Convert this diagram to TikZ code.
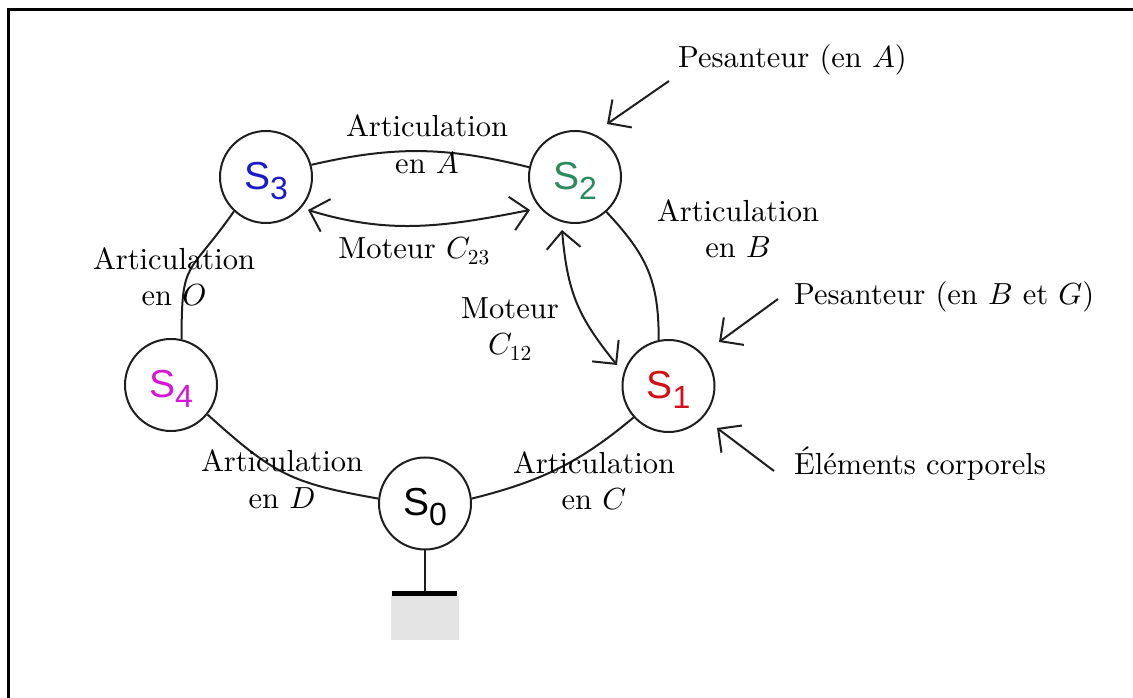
\documentclass[tikz,border=0pt]{standalone}
\usepackage{fontspec}
\setmainfont{lmroman10-regular.otf}[ItalicFont=lmroman10-italic.otf]
\newfontfamily\sfS{Liberation Sans}
\DeclareFontShape{OML}{cmm}{m}{it}{<-> cmmi10}{}
\DeclareFontShape{OT1}{cmr}{m}{n}{<-> cmr10}{}
\usetikzlibrary{arrows.meta,calc}
\definecolor{cBlue}{RGB}{25,25,205}
\definecolor{cGreen}{RGB}{40,140,95}
\definecolor{cMag}{RGB}{215,20,215}
\definecolor{cRed}{RGB}{215,15,20}
\definecolor{cGround}{RGB}{228,228,228}
\definecolor{cLine}{RGB}{30,30,30}
\newcommand\SysLab[1]{{\sfS\fontsize{39}{40}\selectfont\rule{0pt}{35pt}S\raisebox{-10pt}{\fontsize{32}{34}\selectfont #1}}}
\tikzset{
  sys/.style={circle, draw=cLine, line width=2pt, minimum size=92pt, inner sep=0pt},
  link/.style={draw=cLine, line width=2pt},
  motor/.style={link, {Straight Barb[length=17pt,width=34pt]}-{Straight Barb[length=17pt,width=34pt]}},
  force/.style={link, -{Straight Barb[length=17pt,width=34pt]}},
  lab/.style={font=\fontsize{30.5}{36.5}\selectfont, align=center, inner sep=0pt}
}
\begin{document}
\begin{tikzpicture}[x=1pt,y=1pt]
\useasboundingbox (0,0) rectangle (1133,698);
% frame
\draw[line width=3pt] (8.5,0) -- (8.5,688.3) -- (1133,688.3);

% systems
\node[sys,text=cBlue]  (S3) at (266,521)   {\SysLab{3}};
\node[sys,text=cGreen] (S2) at (575,521)   {\SysLab{2}};
\node[sys,text=cMag]   (S4) at (171,313)   {\SysLab{4}};
\node[sys,text=black]  (S0) at (425,194.5) {\SysLab{0}};
\node[sys,text=cRed]   (S1) at (668.5,312) {\SysLab{1}};

% ground
\node[fill=cGround, draw=none, minimum width=68pt, minimum height=44pt, inner sep=0pt, anchor=north] (G) at (425,102) {};
\draw[link] (S0) -- (G.north);
\draw[line width=4.7pt] ($(G.north west)+(1,2.35)$) -- ($(G.north east)+(-2,2.35)$);

% articulations
\draw[link] (S3.15) to[out=13,in=166] (S2.168);
\draw[link] (S2.-48) to[out=-47,in=90,looseness=1.1] (S1.102);
\draw[link] (S3.227) to[out=235,in=90,looseness=1.5] (S4.77);
\draw[link] (S4.-39) to[out=-42,in=170,looseness=1.2] (S0.174);
\draw[link] (S0.6) to[out=14,in=220] (S1.222);

% motors
\coordinate (m23a) at ($(S3)+(42,-33)$);
\coordinate (m23b) at ($(S2)+(-45,-33)$);
\coordinate (m12a) at ($(S2)+(-13,-53)$);
\coordinate (m12b) at ($(S1)+(-51.5,21)$);
\draw[motor] (m23a) to[out=-17,in=191] (m23b);
\draw[motor] (m12a) to[out=275,in=129,looseness=1.1] (m12b);

% external forces
\coordinate (fAt) at (669,617);
\coordinate (fAh) at (607,574);
\coordinate (fBt) at (778,399);
\coordinate (fBh) at (719,356);
\coordinate (fEt) at (774,227);
\coordinate (fEh) at (717,270);
\draw[force] (fAt) -- (fAh);
\draw[force] (fBt) -- (fBh);
\draw[force] (fEt) -- (fEh);

% labels
\node[lab] (lA) at (427,553.6) {Articulation\\en $A$};
\node[lab,anchor=base] (m23) at (414,439) {Moteur $C_{23}$};
\node[lab] (lB) at (738,469.1) {Articulation\\en $B$};
\node[lab] (lO) at (174,421.1) {Articulation\\en $O$};
\node[lab] (m12) at (510,369.2) {Moteur\\$C_{12}$};
\node[lab] (lD) at (282,218.6) {Articulation\\en $D$};
\node[lab] (lC) at (594,217.1) {Articulation\\en $C$};
\node[lab,anchor=base west] (pA) at (678,630) {Pesanteur (en $A$)};
\node[lab,anchor=base west] (pBG) at (794,393) {Pesanteur (en $B$ et $G$)};
\node[lab,anchor=base west] (elem) at (794,223) {Éléments corporels};
\end{tikzpicture}
\end{document}
